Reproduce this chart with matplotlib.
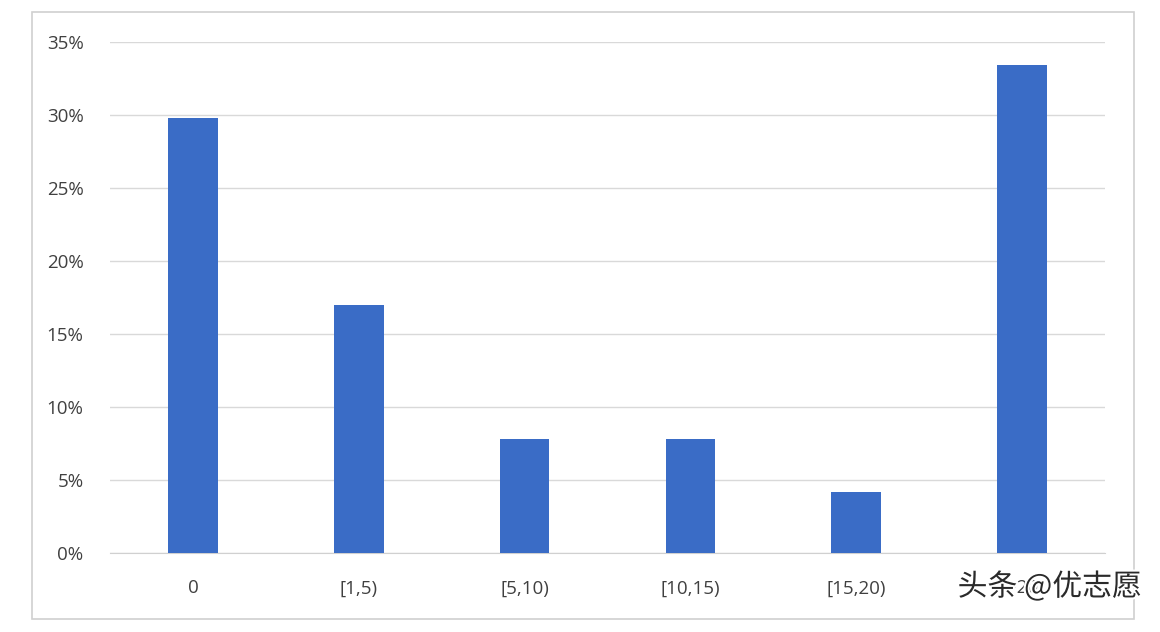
import matplotlib
matplotlib.use("Agg")
import matplotlib.pyplot as plt
from matplotlib.patches import Rectangle
import matplotlib.patheffects as pe

categories = ["0", "[1,5)", "[5,10)", "[10,15)", "[15,20)", ">20"]
values = [29.8, 17.0, 7.8, 7.8, 4.2, 33.4]
yticks = [0, 5, 10, 15, 20, 25, 30, 35]
ytick_labels = ["0%", "5%", "10%", "15%", "20%", "25%", "30%", "35%"]

plt.rcParams['font.family'] = ['Open Sans', 'Noto Sans CJK SC', 'DejaVu Sans']

fig = plt.figure(figsize=(11.6, 6.32), dpi=100)
fig.patch.set_facecolor("white")

# outer frame
fig.add_artist(Rectangle((32/1160, 1-619/632), (1134-32)/1160, (619-12)/632,
                         transform=fig.transFigure, fill=False,
                         edgecolor="#D0D0D0", linewidth=1.2))

ax = fig.add_axes([110/1160, 1-553/632, (1105-110)/1160, (553-42)/632])
x = list(range(len(categories)))
ax.bar(x, values, width=0.3, color="#3A6CC6", zorder=3)
ax.set_xlim(-0.5, len(categories)-0.5)
ax.set_ylim(0, 35)
ax.set_yticks(yticks)
ax.set_yticklabels(ytick_labels)
ax.set_xticks(x)
ax.set_xticklabels(categories)
ax.yaxis.grid(True, color="#D9D9D9", linewidth=1.0, zorder=0)
ax.set_axisbelow(True)
for s in ["top", "right", "left"]:
    ax.spines[s].set_visible(False)
ax.spines["bottom"].set_color("#D0D0D0")
ax.tick_params(axis="both", length=0, labelsize=13.5, colors="#404040")
ax.tick_params(axis="y", pad=19)
ax.tick_params(axis="x", pad=19)

fig.text(1142/1160, 1-587/632, "头条 @优志愿", ha="right", va="center",
         fontsize=21.5, color="#2a2a2a",
         family=['Noto Sans CJK SC', 'DejaVu Sans'],
         path_effects=[pe.withStroke(linewidth=3, foreground="white")])

fig.savefig("out.png", dpi=100, facecolor="white")
